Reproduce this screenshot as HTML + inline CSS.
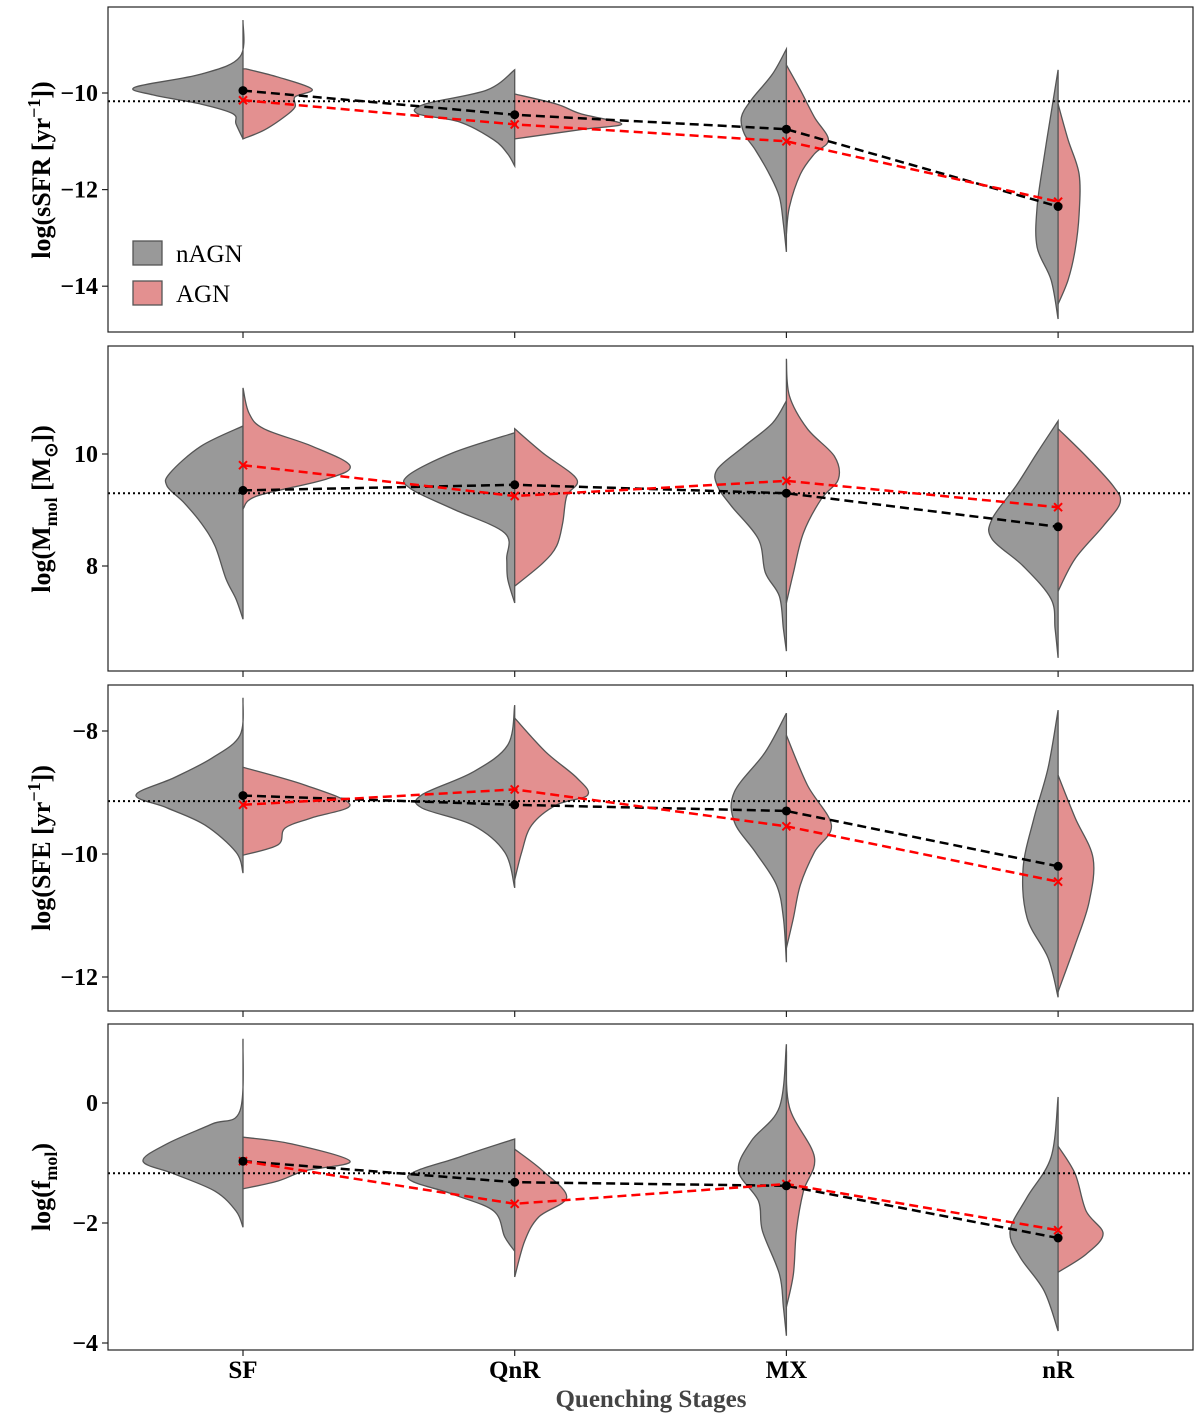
<!DOCTYPE html>
<html><head><meta charset="utf-8"><style>
body{margin:0;background:#fff}
svg{display:block;font-family:"Liberation Serif",serif}
</style></head><body>
<svg id="chart" width="1200" height="1420" xmlns="http://www.w3.org/2000/svg"></svg>
<script>
const categories=["SF","QnR","MX","nR"];
// medians per panel [nAGN], [AGN]
const medSSFR_n=[-9.95,-10.45,-10.75,-12.35], medSSFR_a=[-10.15,-10.65,-11.0,-12.25];
const medMmol_n=[9.35,9.45,9.3,8.7], medMmol_a=[9.8,9.25,9.52,9.05];
const medSFE_n=[-9.05,-9.2,-9.3,-10.2], medSFE_a=[-9.2,-8.95,-9.55,-10.45];
const medFmol_n=[-0.97,-1.32,-1.38,-2.25], medFmol_a=[-0.97,-1.68,-1.35,-2.12];
const refLines=[-10.17,9.3,-9.14,-1.17];
const ticks1=[-10,-12,-14], ticks2=[10,8], ticks3=[-8,-10,-12], ticks4=[0,-2,-4];
// violin halves: [value, density]
const vSSFR_n=[
[[-8.49,0],[-9.25,.03],[-9.61,.42],[-9.88,1.08],[-10.04,.9],[-10.23,.42],[-10.43,.10],[-10.64,.07],[-10.95,0]],
[[-9.52,0],[-9.94,.28],[-10.23,.9],[-10.43,.97],[-10.6,.55],[-10.97,.21],[-11.26,.07],[-11.51,0]],
[[-9.09,0],[-9.61,.14],[-10.14,.35],[-10.5,.45],[-10.85,.42],[-11.18,.31],[-11.68,.17],[-12.15,.07],[-12.71,.03],[-13.29,0]],
[[-9.52,0],[-10.29,.06],[-11.33,.14],[-12.36,.21],[-13.19,.21],[-13.87,.07],[-14.68,0]]];
const vSSFR_a=[
[[-9.5,.03],[-9.67,.35],[-9.92,.69],[-10.08,.52],[-10.29,.52],[-10.5,.41],[-10.77,.21],[-10.95,0]],
[[-10.02,0],[-10.23,.42],[-10.43,.66],[-10.64,1.07],[-10.75,.69],[-10.91,.14],[-10.95,0]],
[[-9.42,0],[-9.94,.14],[-10.5,.28],[-10.97,.42],[-11.26,.28],[-11.68,.14],[-12.36,.03],[-12.92,0]],
[[-10.23,0],[-10.97,.1],[-11.68,.21],[-12.51,.21],[-13.25,.17],[-13.87,.1],[-14.37,0]]];
const vMmol_n=[
[[10.5,0],[10.14,.42],[9.66,.73],[9.43,.76],[9.13,.59],[8.77,.42],[8.36,.28],[7.77,.17],[7.41,.07],[7.05,0]],
[[10.38,0],[10.02,.62],[9.61,1.07],[9.38,1.04],[9.02,.62],[8.59,.1],[8.13,.08],[7.77,.07],[7.34,0]],
[[10.95,0],[10.55,.14],[10.14,.42],[9.73,.69],[9.43,.69],[9.07,.55],[8.48,.28],[7.88,.21],[7.46,.07],[6.88,.03],[6.48,0]],
[[10.59,0],[10.02,.21],[9.43,.42],[8.84,.66],[8.48,.66],[8.0,.35],[7.41,.07],[6.88,.03],[6.36,0]]];
const vMmol_a=[
[[11.18,0],[10.73,.06],[10.45,.21],[10.14,.69],[9.79,1.07],[9.55,.83],[9.25,.14],[9.02,0]],
[[10.45,0],[10.02,.28],[9.55,.62],[9.25,.52],[8.77,.48],[8.36,.42],[8.05,.28],[7.64,0]],
[[11.7,0],[11.04,.03],[10.45,.21],[9.96,.48],[9.55,.52],[9.2,.35],[8.59,.17],[7.88,.07],[7.34,0]],
[[10.45,0],[9.96,.28],[9.43,.55],[9.13,.62],[8.71,.45],[8.13,.17],[7.55,0]]];
const vSFE_n=[
[[-7.46,0],[-8.07,.03],[-8.44,.31],[-8.76,.69],[-9.04,1.07],[-9.25,.76],[-9.53,.38],[-9.97,.07],[-10.31,0]],
[[-7.58,0],[-8.23,.07],[-8.67,.42],[-9.04,.93],[-9.25,.93],[-9.53,.42],[-9.97,.1],[-10.55,0]],
[[-7.71,0],[-8.34,.21],[-8.99,.52],[-9.48,.52],[-9.97,.31],[-10.5,.1],[-11.04,.03],[-11.76,0]],
[[-7.66,0],[-8.6,.1],[-9.41,.24],[-10.23,.35],[-11.04,.31],[-11.69,.1],[-12.33,0]]];
const vSFE_a=[
[[-8.59,0],[-8.88,.62],[-9.2,1.07],[-9.41,.69],[-9.58,.42],[-9.85,.35],[-10.02,0]],
[[-7.79,0],[-8.34,.31],[-8.76,.62],[-9.04,.73],[-9.2,.42],[-9.53,.17],[-9.97,.07],[-10.42,0]],
[[-8.07,0],[-8.88,.21],[-9.53,.45],[-9.97,.28],[-10.5,.14],[-11.04,.07],[-11.53,0]],
[[-8.72,0],[-9.41,.17],[-10.07,.35],[-10.78,.31],[-11.48,.17],[-12.24,0]]];
const vFmol_n=[
[[1.07,0],[-0.13,.03],[-0.35,.31],[-0.68,.76],[-0.97,1.0],[-1.18,.69],[-1.47,.28],[-1.8,.07],[-2.07,0]],
[[-0.6,0],[-0.9,.55],[-1.23,1.07],[-1.52,.62],[-1.8,.21],[-2.23,.1],[-2.47,0]],
[[0.98,0],[-0.07,.07],[-0.63,.35],[-1.13,.48],[-1.63,.28],[-2.13,.24],[-2.85,.07],[-3.4,.03],[-3.88,0]],
[[0.1,0],[-0.9,.07],[-1.57,.31],[-2.13,.48],[-2.57,.38],[-3.13,.14],[-3.8,0]]];
const vFmol_a=[
[[-0.57,0],[-0.68,.48],[-0.97,1.07],[-1.13,.62],[-1.3,.35],[-1.43,0]],
[[-0.77,0],[-1.13,.28],[-1.57,.52],[-1.9,.24],[-2.3,.1],[-2.9,0]],
[[0.87,0],[-0.07,.03],[-0.9,.28],[-1.47,.17],[-2.13,.1],[-2.85,.07],[-3.4,0]],
[[-0.72,0],[-1.18,.17],[-1.8,.28],[-2.18,.45],[-2.52,.28],[-2.82,0]]];

const NS="http://www.w3.org/2000/svg";
const svg=document.getElementById('chart');
const L=108,R=1193;
const catX=i=>243+i*271.7;
const panels=[
 {name:'ssfr',top:7,bot:332,vref:-10,yref:93,ppu:48.3,ticks:ticks1,mn:medSSFR_n,ma:medSSFR_a,vn:vSSFR_n,va:vSSFR_a,ref:refLines[0]},
 {name:'mmol',top:346,bot:671,vref:10,yref:454,ppu:56,ticks:ticks2,mn:medMmol_n,ma:medMmol_a,vn:vMmol_n,va:vMmol_a,ref:refLines[1]},
 {name:'sfe',top:685,bot:1011,vref:-8,yref:731,ppu:61.5,ticks:ticks3,mn:medSFE_n,ma:medSFE_a,vn:vSFE_n,va:vSFE_a,ref:refLines[2]},
 {name:'fmol',top:1024,bot:1350,vref:0,yref:1103,ppu:60,ticks:ticks4,mn:medFmol_n,ma:medFmol_a,vn:vFmol_n,va:vFmol_a,ref:refLines[3]}];
function mk(tag,attrs,parent){const e=document.createElementNS(NS,tag);for(const k in attrs)e.setAttribute(k,attrs[k]);(parent||svg).appendChild(e);return e;}
function smooth(pts){let d='M'+pts[0][0]+','+pts[0][1];for(let i=0;i<pts.length-1;i++){const p0=pts[i-1]||pts[i],p1=pts[i],p2=pts[i+1],p3=pts[i+2]||p2;
 d+=` C${p1[0]+(p2[0]-p0[0])/6},${p1[1]+(p2[1]-p0[1])/6} ${p2[0]-(p3[0]-p1[0])/6},${p2[1]-(p3[1]-p1[1])/6} ${p2[0]},${p2[1]}`;}return d;}
const W=100;
panels.forEach((p,pi)=>{
 const g=mk('g',{});
 
 
 const y=v=>p.yref+(p.vref-v)*p.ppu;
 [[p.vn,-1,'#999999','nagn'],[p.va,1,'#e39090','agn']].forEach(([vs,sgn,col,nm])=>{
  vs.forEach((half,i)=>{
   const cx=catX(i);
   const pts=half.map(([v,d])=>[cx+sgn*d*W,y(v)]);
   let d=smooth(pts)+` L${cx},${y(half[half.length-1][0])} L${cx},${y(half[0][0])} Z`;
   const path=mk('path',{d:d,fill:col,stroke:'#555',"stroke-width":1.3},g);
   
   
  });
 });
 const rl=mk('line',{x1:L,x2:R,y1:y(p.ref),y2:y(p.ref),stroke:'#000',"stroke-width":2,"stroke-dasharray":"2,3"},g);
 
 
 const ln=mk('polyline',{points:p.mn.map((v,i)=>catX(i)+','+y(v)).join(' '),fill:'none',stroke:'#000',"stroke-width":2.5,"stroke-dasharray":"9,5"},g);
 
 
 const la=mk('polyline',{points:p.ma.map((v,i)=>catX(i)+','+y(v)).join(' '),fill:'none',stroke:'#f00',"stroke-width":2.5,"stroke-dasharray":"9,5"},g);
 
 
 p.ma.forEach((v,i)=>{const cx=catX(i),cy=y(v);
  const m=mk('path',{d:`M${cx-4},${cy-4}L${cx+4},${cy+4}M${cx-4},${cy+4}L${cx+4},${cy-4}`,stroke:'#f00',"stroke-width":2},g);
  
  });
 p.mn.forEach((v,i)=>{const c=mk('circle',{cx:catX(i),cy:y(v),r:4.5,fill:'#000'},g);
  
  });
 const fr=mk('rect',{x:L,y:p.top,width:R-L,height:p.bot-p.top,fill:'none',stroke:'#222',"stroke-width":1.2},g);
 
 
 p.ticks.forEach(t=>{const ty=y(t);
  mk('line',{x1:L-6,x2:L,y1:ty,y2:ty,stroke:'#222',"stroke-width":1.2},g);
  const tx=mk('text',{x:L-10,y:ty+8,"text-anchor":"end","font-size":24,"font-weight":"bold"},g);
  tx.textContent=(t<0?'\u2212'+(-t):t);
  
  });
 categories.forEach((c,i)=>mk('line',{x1:catX(i),x2:catX(i),y1:p.bot,y2:p.bot+6,stroke:'#222',"stroke-width":1.2},g));
});
const titles=[
 ['ssfr-y-title',170,'log(sSFR [yr<tspan dy="-10" font-size="18">\u22121</tspan><tspan dy="10">])</tspan>'],
 ['mmol-y-title',509,'log(M<tspan dy="7" font-size="18">mol</tspan><tspan dy="-7"> [M</tspan><tspan dy="7" font-size="18">\u2299</tspan><tspan dy="-7">])</tspan>'],
 ['sfe-y-title',848,'log(SFE [yr<tspan dy="-10" font-size="18">\u22121</tspan><tspan dy="10">])</tspan>'],
 ['fmol-y-title',1187,'log(f<tspan dy="7" font-size="18">mol</tspan><tspan dy="-7">)</tspan>']];
titles.forEach(([n,cy,h])=>{const t=mk('text',{x:0,y:0,transform:`translate(50,${cy}) rotate(-90)`,"text-anchor":"middle","font-size":26,"font-weight":"bold"});
 t.innerHTML=h;});
categories.forEach((c,i)=>{const t=mk('text',{x:catX(i),y:1378,"text-anchor":"middle","font-size":25,"font-weight":"bold"});
 t.textContent=c;});
const xt=mk('text',{x:651,y:1407,"text-anchor":"middle","font-size":25,"font-weight":"bold",fill:'#444'});
xt.textContent='Quenching Stages';


[['nAGN','#999999',241],['AGN','#e39090',281]].forEach(([n,c,yy])=>{
 const r=mk('rect',{x:133,y:yy,width:29,height:24,fill:c,stroke:'#555',"stroke-width":1.3});
 
 
 const t=mk('text',{x:176,y:yy+21,"font-size":25});
 t.textContent=n;
 
 });
</script>
</body></html>
